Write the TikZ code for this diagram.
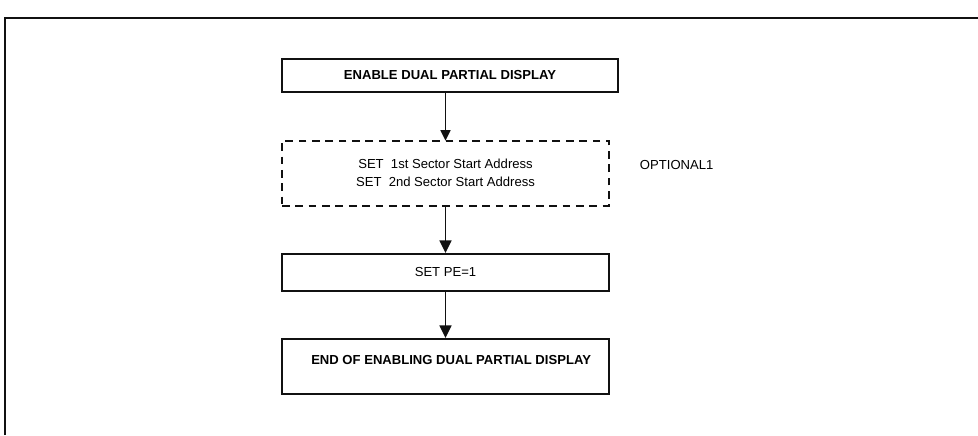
\documentclass[tikz,border=0pt]{standalone}
\usepackage{fontspec}
\setmainfont{Liberation Sans}
\usepackage{tikz}
\usetikzlibrary{arrows.meta,positioning}
\definecolor{ink}{HTML}{111111}

\begin{document}
\begin{tikzpicture}[x=0.025cm,y=-0.025cm,
  box/.style={draw=ink,line width=1.3pt,minimum width=327*0.025cm,
              inner sep=0pt,font=\fontsize{9.3}{12.8}\selectfont,anchor=north},
  optbox/.style={box,line width=1.1pt,dash pattern=on 5.5pt off 4pt,align=center},
  flow/.style={draw=ink,line width=1.3pt,-{Triangle[length=9pt,width=8.5pt]}}
]
\useasboundingbox (0,0) rectangle (978,435);
% outer frame (cropped)
\draw[ink,line width=1.4pt] (5,435) -- (5,18) -- (978,18);

\node[box,minimum width=336*0.025cm,minimum height=33*0.025cm,font=\fontsize{9.3}{12.8}\selectfont\bfseries]
  (enable) at (450,58) {ENABLE DUAL PARTIAL DISPLAY};
\node[optbox,minimum height=65*0.025cm] (sector) at (445.5,140)
  {SET\ \ 1st Sector Start Address\\SET\ \ 2nd Sector Start Address};
\node[box,minimum height=37*0.025cm] (pe) at (445.5,253) {SET PE=1};
\node[box,minimum height=55*0.025cm,text depth=9pt,font=\fontsize{9.3}{12.8}\selectfont\bfseries]
  (endbox) at (445.5,338) {\hspace*{8pt}END OF ENABLING DUAL PARTIAL DISPLAY};
\node[font=\fontsize{9.3}{12.8}\selectfont,anchor=west] (opt) at (635,165) {OPTIONAL1};

\draw[flow,-{Triangle[length=7.5pt,width=7pt]}] (enable.south -| sector.north) -- ([yshift=-0.5pt]sector.north);
\draw[flow] (sector) -- (pe);
\draw[flow] (pe) -- (endbox);
\end{tikzpicture}
\end{document}
